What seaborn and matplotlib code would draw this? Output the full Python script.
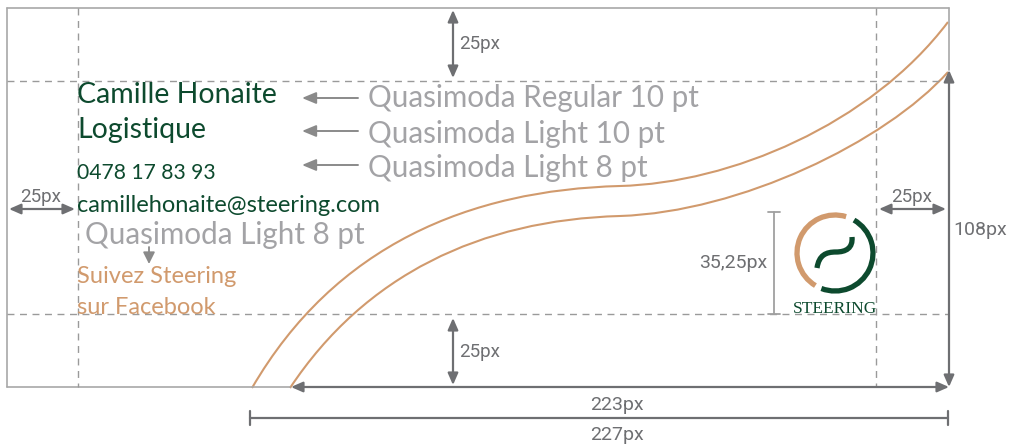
import numpy as np
import pandas as pd
import matplotlib
matplotlib.use("Agg")
import matplotlib.pyplot as plt
import seaborn as sns
from matplotlib.patches import Arc, PathPatch
from matplotlib.path import Path

# ---------------- data ----------------
card_lines = ["Camille Honaite", "Logistique", "0478 17 83 93", "camillehonaite@steering.com"]
font_notes = ["Quasimoda Regular 10 pt", "Quasimoda Light 10 pt", "Quasimoda Light 8 pt"]
email_note = "Quasimoda Light 8 pt"
facebook_lines = ["Suivez Steering", "sur Facebook"]
margin_label = "25px"
height_label = "108px"
inner_width_label = "223px"
outer_width_label = "227px"
logo_label = "35,25px"
logo_word = "STEERING"

# swoosh curves: cubic Bezier anchor / control points
curve1_x = [252, 335, 470, 620, 730, 870, 948]
curve1_y = [388, 245, 190, 186, 183, 125, 22]
curve2_x = [290, 365, 480, 620, 740, 885, 948]
curve2_y = [388, 275, 220, 216, 212, 142, 72]

# logo "S" stroke (Bezier anchor / control points)
s_x = [817, 819, 826, 836, 846, 853, 852]
s_y = [268, 255, 252, 252, 252, 248, 237]

GREEN = "#0d4a2e"
TAN = "#d19a6d"
NOTE = "#a3a3a6"
DIM = "#6e6f72"
GUIDE = "#9a9a9a"

sns.set_theme(style="white")
plt.rcParams['font.family'] = ['Lato', 'DejaVu Sans']

W, H = 1011, 446
fig = plt.figure(figsize=(W / 100, H / 100), dpi=100)
ax = fig.add_axes([0, 0, 1, 1])
ax.set_xlim(0, W)
ax.set_ylim(H, 0)
ax.axis('off')

# ---- frame ----
ax.plot([7, 7], [8, 387], color="#a8a8a8", lw=1.2)
ax.plot([7, 949], [8, 8], color="#a8a8a8", lw=1.2)
ax.plot([949, 949], [8, 70], color="#a8a8a8", lw=1.2)
ax.plot([7, 290], [387, 387], color="#a8a8a8", lw=1.2)

# ---- dashed guides ----
dash = dict(color=GUIDE, lw=1, dashes=(5, 4))
ax.plot([78, 78], [8, 387], **dash)
ax.plot([876, 876], [8, 387], **dash)
ax.plot([7, 949], [81, 81], **dash)
ax.plot([7, 949], [314, 314], **dash)

# ---- swoosh curves ----
bez_codes = [Path.MOVETO] + [Path.CURVE4] * 6
for cx_, cy_ in [(curve1_x, curve1_y), (curve2_x, curve2_y)]:
    path = Path(np.column_stack([cx_, cy_]), bez_codes)
    ax.add_patch(PathPatch(path, facecolor='none', edgecolor=TAN, lw=1.5))


def dim_arrow(p0, p1, style='<|-|>'):
    ax.annotate('', xy=p1, xytext=p0,
                arrowprops=dict(arrowstyle=style + ',head_length=0.5,head_width=0.22',
                                color=DIM, lw=1.6, shrinkA=0, shrinkB=0, mutation_scale=14))


def dim_text(x, y, s, ha='left', fs=13.5):
    ax.text(x, y, s, color=DIM, fontsize=fs, family=['Roboto', 'DejaVu Sans'], ha=ha, va='center')


# margins
dim_arrow((453, 10), (453, 78))
dim_text(459, 44, margin_label)
dim_arrow((453, 318), (453, 385))
dim_text(459, 352, margin_label)
dim_arrow((9, 209), (75, 209))
dim_text(41, 197, margin_label, ha='center')
dim_arrow((879, 209), (946, 209))
dim_text(912, 197, margin_label, ha='center')
# height
dim_arrow((949, 70), (949, 387))
dim_text(953, 230, height_label, fs=14)
# widths
dim_arrow((291, 387), (949, 387))
dim_text(617, 405, inner_width_label, ha='center', fs=14)
ax.annotate('', xy=(948, 418), xytext=(250, 418),
            arrowprops=dict(arrowstyle='|-|,widthA=0.35,widthB=0.35', color=DIM, lw=1.6,
                            shrinkA=0, shrinkB=0, mutation_scale=14))
dim_text(617, 435, outer_width_label, ha='center', fs=14)
# logo height bracket
ax.annotate('', xy=(774, 314), xytext=(774, 212),
            arrowprops=dict(arrowstyle='|-|,widthA=0.3,widthB=0.3', color="#a0a0a0", lw=1.3,
                            shrinkA=0, shrinkB=0, mutation_scale=14))
dim_text(767, 263, logo_label, ha='right', fs=14)

# ---- card texts ----
sizes = [20.5, 20.5, 15.2, 17.0]
baselines = [103, 138, 179, 212]
for s, fs, yb in zip(card_lines, sizes, baselines):
    ax.text(77, yb, s, color=GREEN, fontsize=fs, va='baseline', ha='left')

ax.text(85, 244, email_note, color=NOTE, fontsize=21.3, va='baseline')
ax.annotate('', xy=(149, 264), xytext=(149, 247),
            arrowprops=dict(arrowstyle='-|>,head_length=0.5,head_width=0.25', color="#8a8a8a", lw=1.3,
                            shrinkA=0, shrinkB=0, mutation_scale=14))
for s, yb in zip(facebook_lines, [283, 314]):
    ax.text(77, yb, s, color=TAN, fontsize=17.0, va='baseline')

# right-hand font notes with arrows
for s, yb, ya in zip(font_notes, [107, 143, 177], [98, 131, 165]):
    ax.text(368, yb, s, color=NOTE, fontsize=21.3, va='baseline')
    ax.annotate('', xy=(302, ya), xytext=(358, ya),
                arrowprops=dict(arrowstyle='-|>,head_length=0.6,head_width=0.25', color="#8a8a8a", lw=1.4,
                                shrinkA=0, shrinkB=0, mutation_scale=14))

# ---- logo ----
cx, cy, r = 835, 253, 38
ax.add_patch(Arc((cx, cy), 2 * r, 2 * r, theta1=-239, theta2=-73, color=TAN, lw=3.8))
ax.add_patch(Arc((cx, cy), 2 * r, 2 * r, theta1=-60, theta2=111, color=GREEN, lw=3.8))
s_path = Path(np.column_stack([s_x, s_y]), [Path.MOVETO] + [Path.CURVE4] * 6)
ax.add_patch(PathPatch(s_path, facecolor='none', edgecolor=GREEN, lw=3.8, capstyle='butt'))
ax.text(835, 313, logo_word, color=GREEN, fontsize=12.5, family=['Liberation Serif', 'DejaVu Serif'],
        ha='center', va='baseline')

fig.savefig("out.png", dpi=100)
